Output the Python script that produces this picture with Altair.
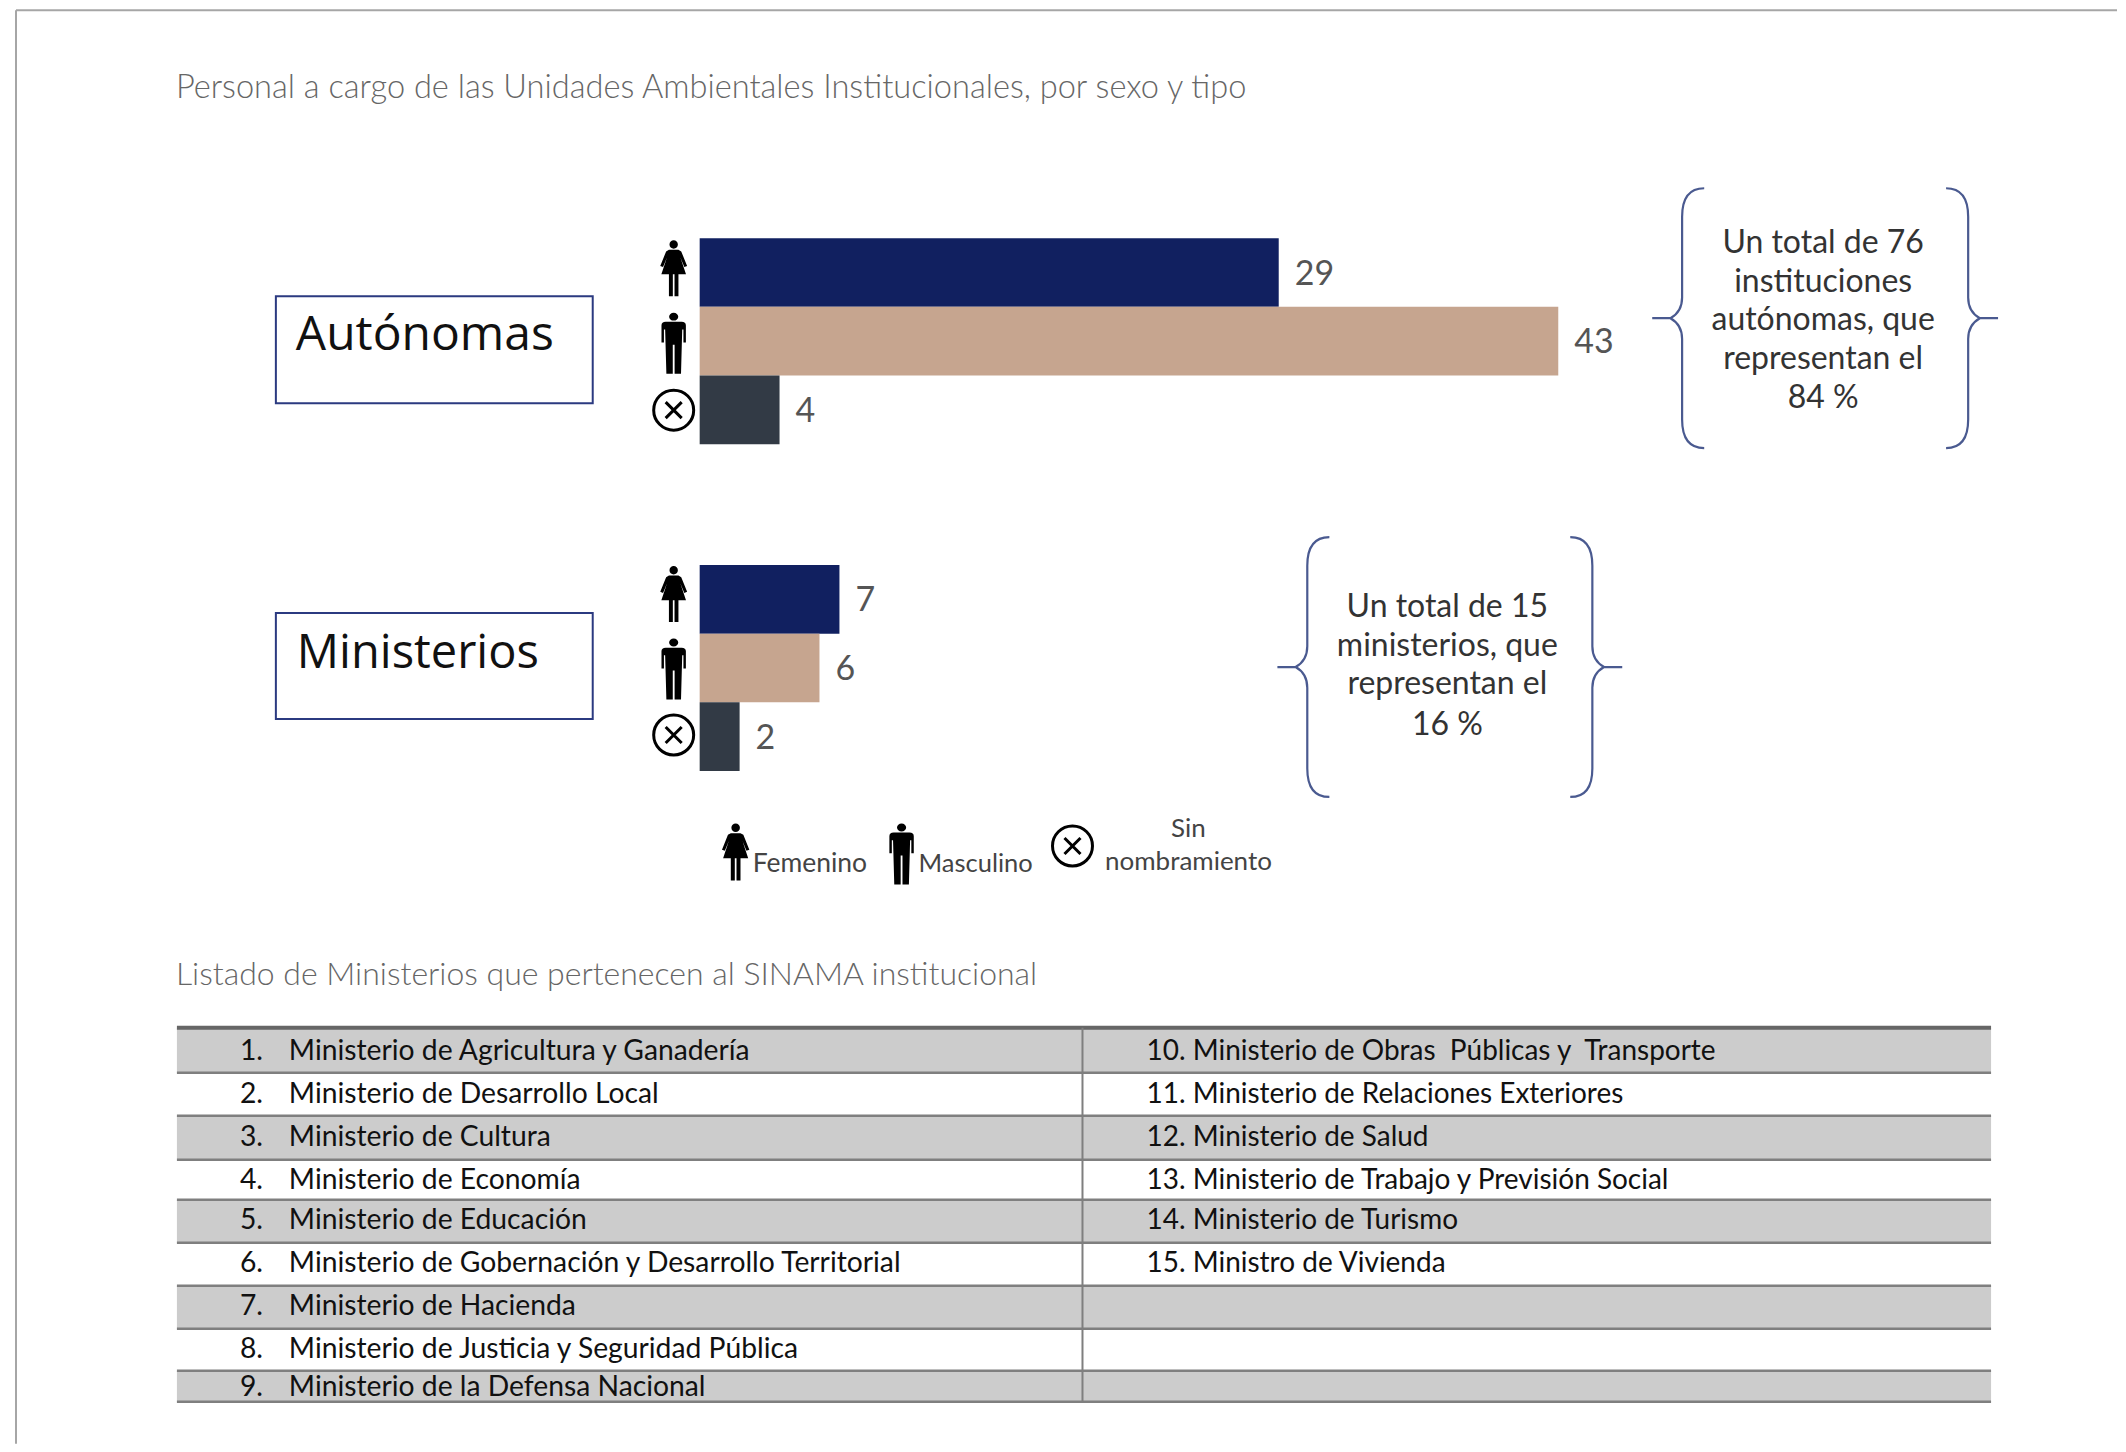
import altair as alt

# ---------- data ----------
sexos = ["Femenino", "Masculino", "Sin nombramiento"]
autonomas = [29, 43, 4]
ministerios = [7, 6, 2]
colores = ["#112060", "#c6a58f", "#323a45"]
titulo1 = "Personal a cargo de las Unidades Ambientales Institucionales, por sexo y tipo"
titulo2 = "Listado de Ministerios que pertenecen al SINAMA institucional"
nota_a = ["Un total de 76", "instituciones", "autónomas, que", "representan el", "84 %"]
nota_m = ["Un total de 15", "ministerios, que", "representan el", "16 %"]
col1_num = ["1.", "2.", "3.", "4.", "5.", "6.", "7.", "8.", "9."]
col1 = ["Ministerio de Agricultura y Ganadería", "Ministerio de Desarrollo Local", "Ministerio de Cultura",
        "Ministerio de Economía", "Ministerio de Educación", "Ministerio de Gobernación y Desarrollo Territorial",
        "Ministerio de Hacienda", "Ministerio de Justicia y Seguridad Pública", "Ministerio de la Defensa Nacional"]
col2 = ["10. Ministerio de Obras\u00a0 Públicas y\u00a0 Transporte", "11. Ministerio de Relaciones Exteriores",
        "12. Ministerio de Salud", "13. Ministerio de Trabajo y Previsión Social", "14. Ministerio de Turismo",
        "15. Ministro de Vivienda"]

# ---------- layout (page pixels) ----------
M = 8
W, H = 2110, 1436
ONE = alt.Data(values=[{}])
FONT = "Lato"
LINES = [1028, 1073, 1116, 1160, 1200, 1243, 1286, 1329, 1371, 1402]
ROW_Y = [1052, 1095, 1138, 1181, 1221, 1264, 1307, 1350, 1388]
XL, XD, XR = 177, 1083, 1992

WOMAN = ("M-0.15,-0.85 A0.15,0.15 0 1 1 0.15,-0.85 A0.15,0.15 0 1 1 -0.15,-0.85 Z "
         "M-0.17,-0.66 L0.17,-0.66 L0.27,-0.6 L0.48,-0.08 L0.38,-0.04 L0.24,-0.38 L0.44,0.22 L0.17,0.22 L0.17,1 "
         "L0.03,1 L0.03,0.22 L-0.03,0.22 L-0.03,1 L-0.17,1 L-0.17,0.22 L-0.44,0.22 L-0.24,-0.38 L-0.38,-0.04 "
         "L-0.48,-0.08 L-0.27,-0.6 Z")
MAN = ("M-0.15,-0.87 A0.15,0.13 0 1 1 0.15,-0.87 A0.15,0.13 0 1 1 -0.15,-0.87 Z "
       "M-0.4,-0.58 Q-0.4,-0.7 -0.26,-0.7 L0.26,-0.7 Q0.4,-0.7 0.4,-0.58 L0.4,-0.02 L0.32,-0.02 L0.32,-0.45 "
       "L0.28,-0.45 L0.24,1 L0.03,1 L0.03,0.05 L-0.03,0.05 L-0.03,1 L-0.24,1 L-0.28,-0.45 L-0.32,-0.45 L-0.32,-0.02 "
       "L-0.4,-0.02 Z")
CROSS = "M-1,-1 L1,1 M1,-1 L-1,1"
BRACE_L = ("M0.2,-1 Q0.03,-1 0.03,-0.78 L0.03,-0.16 Q0.03,-0.05 -0.06,0 L-0.2,0 "
           "M-0.06,0 Q0.03,0.05 0.03,0.16 L0.03,0.78 Q0.03,1 0.2,1")
BRACE_R = ("M-0.2,-1 Q-0.03,-1 -0.03,-0.78 L-0.03,-0.16 Q-0.03,-0.05 0.06,0 L0.2,0 "
           "M0.06,0 Q-0.03,0.05 -0.03,0.16 L-0.03,0.78 Q-0.03,1 -0.2,1")


def text(x, y, s, size, color="#333333", align="left", weight=400, baseline="middle", font=FONT):
    return alt.Chart(ONE).mark_text(align=align, baseline=baseline, fontSize=size, font=font,
                                    fontWeight=weight, color=color, text=s).encode(
        x=alt.value(x - M), y=alt.value(y - M))


def hline(x1, x2, y, color, w):
    return alt.Chart(ONE).mark_rule(color=color, strokeWidth=w).encode(
        x=alt.value(x1 - M), x2=alt.value(x2 - M), y=alt.value(y - M))


def vline(x, y1, y2, color, w):
    return alt.Chart(ONE).mark_rule(color=color, strokeWidth=w).encode(
        x=alt.value(x - M), y=alt.value(y1 - M), y2=alt.value(y2 - M))


def rect(x1, x2, y1, y2, fill=None, stroke=None, w=0):
    kw = {"fill": fill if fill else "transparent"}
    if stroke:
        kw.update(stroke=stroke, strokeWidth=w)
    return alt.Chart(ONE).mark_rect(**kw).encode(
        x=alt.value(x1 - M), x2=alt.value(x2 - M), y=alt.value(y1 - M), y2=alt.value(y2 - M))


def symbol(x, y, path, height, fill=None, stroke=None, w=0):
    kw = {"shape": path, "size": height ** 2, "opacity": 1}
    if fill:
        kw.update(filled=True, fill=fill, strokeWidth=0)
    else:
        kw.update(filled=False, stroke=stroke, strokeWidth=w, fill="transparent")
    return alt.Chart(ONE).mark_point(**kw).encode(x=alt.value(x - M), y=alt.value(y - M))


def no_icon(x, y):
    return [symbol(x, y, "circle", 40, stroke="#000000", w=3),
            symbol(x, y, CROSS, 16, stroke="#000000", w=3)]


def bars(values, y1, y2):
    rows = [{"sexo": s, "n": v} for s, v in zip(sexos, values)]
    base = alt.Chart(alt.Data(values=rows))
    x = alt.X("n:Q", axis=None, scale=alt.Scale(domain=[0, 43], range=[692, 1551], nice=False))
    y = alt.Y("sexo:N", axis=None, sort=None,
              scale=alt.Scale(domain=sexos, range=[y1 - M, y2 - M], paddingInner=0, paddingOuter=0))
    b = base.mark_bar(cornerRadius=0).encode(
        x=x, y=y, color=alt.Color("sexo:N", legend=None, scale=alt.Scale(domain=sexos, range=colores)))
    t = base.mark_text(align="left", dx=16, dy=2, fontSize=34, font=FONT, color="#555555").encode(
        x=x, y=y, text="n:Q")
    return alt.layer(b, t)


layers = []
# frame
layers += [hline(16, W + M, 10, "#a6a6a6", 2), vline(16, 10, H + M, "#a6a6a6", 2)]
# titles
layers += [text(176, 88, titulo1, 32.6, "#666666", weight=300),
           text(176, 975, titulo2, 32, "#666666", weight=300)]
# group boxes
layers += [rect(276, 593, 296, 403, stroke="#2b3a80", w=2), text(296, 336, "Autónomas", 48, "#111111", weight=400, font="Open Sans"),
           rect(276, 593, 613, 719, stroke="#2b3a80", w=2), text(297, 654, "Ministerios", 47, "#111111", weight=400, font="Open Sans")]
# bars
chart_bars = [bars(autonomas, 238, 444), bars(ministerios, 565, 771)]
# row icons
for yw, ym, yx in [(268, 343, 410), (594, 669, 735)]:
    layers += [symbol(674, yw, WOMAN, 56, fill="#000000"), symbol(674, ym, MAN, 61, fill="#000000")] + no_icon(674, yx)
# braces
BR = "#4a5a90"
for xl, xr, yc in [(1679, 1973, 318), (1304, 1597, 667)]:
    layers += [symbol(xl, yc, BRACE_L, 260, stroke=BR, w=2.2), symbol(xr, yc, BRACE_R, 260, stroke=BR, w=2.2)]
for s, y in zip(nota_a, [243, 282, 320, 359, 398]):
    layers.append(text(1824, y, s, 32, "#333333", align="center"))
for s, y in zip(nota_m, [607, 646, 684, 725]):
    layers.append(text(1448, y, s, 32, "#333333", align="center"))
# legend
layers += [symbol(736, 852, WOMAN, 57, fill="#000000"), symbol(902, 854, MAN, 61, fill="#000000")] + no_icon(1073, 846)
layers += [text(753, 864, sexos[0], 26.5, "#444444"), text(919, 864, sexos[1], 25.5, "#444444"),
           text(1189, 829, "Sin", 26, "#444444", align="center"),
           text(1189, 862, "nombramiento", 26, "#444444", align="center")]
# table
for i in range(0, 9, 2):
    layers.append(rect(XL, XR, LINES[i], LINES[i + 1], fill="#cccccc"))
for i, y in enumerate(LINES):
    layers.append(hline(XL, XR, y, "#666666" if i == 0 else "#7f7f7f", 4 if i == 0 else 2.5))
layers.append(vline(XD, LINES[0], LINES[-1], "#7f7f7f", 2))
for n, s, y in zip(col1_num, col1, ROW_Y):
    layers += [text(240, y, n, 28.3, "#111111"), text(289, y, s, 28.3, "#111111")]
for s, y in zip(col2, ROW_Y):
    layers.append(text(1147, y, s, 28, "#111111"))

chart = alt.layer(*chart_bars, *layers).resolve_scale(y="independent", color="shared").properties(
    width=W, height=H, padding=0, background="#ffffff").configure_view(stroke=None)

chart.save("out.html", embed_options={"renderer": "svg", "actions": False})
